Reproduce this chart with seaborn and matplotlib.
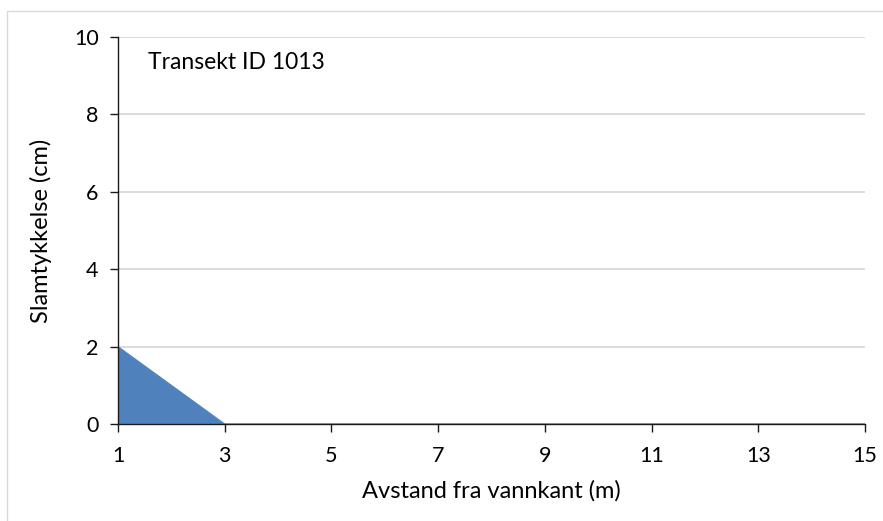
import matplotlib
matplotlib.use("Agg")
import matplotlib.pyplot as plt
import seaborn as sns
import pandas as pd
from matplotlib.patches import Rectangle

# Mud thickness along the transect
distance_m = [1, 2, 3, 4, 5, 6, 7, 8, 9, 10, 11, 12, 13, 14, 15]
thickness_cm = [2, 1, 0, 0, 0, 0, 0, 0, 0, 0, 0, 0, 0, 0, 0]
x_ticks = [1, 3, 5, 7, 9, 11, 13, 15]
y_ticks = [0, 2, 4, 6, 8, 10]
transect_label = "Transekt ID 1013"
x_label = "Avstand fra vannkant (m)"
y_label = "Slamtykkelse (cm)"

df = pd.DataFrame({"distance": distance_m, "thickness": thickness_cm})

sns.set_theme(style="white")
plt.rcParams["font.family"] = ["Lato", "DejaVu Sans"]

fig = plt.figure(figsize=(8.83, 5.21), dpi=100)
ax = fig.add_axes([118 / 883, 97 / 521, 747 / 883, 387 / 521])

fill_color = "#4f81bd"
sns.lineplot(data=df, x="distance", y="thickness", ax=ax, color=fill_color,
             linewidth=0.8, zorder=3)
ax.fill_between(df["distance"], df["thickness"], 0, color=fill_color,
                linewidth=0, zorder=3)

ax.set_xlim(1, 15)
ax.set_ylim(0, 10)
ax.set_xticks(x_ticks)
ax.set_yticks(y_ticks)
ax.yaxis.grid(True, color="#d9d9d9", linewidth=1.3, zorder=0)
ax.xaxis.grid(False)
ax.set_axisbelow(True)

for side in ("top", "right"):
    ax.spines[side].set_visible(False)
for side in ("left", "bottom"):
    ax.spines[side].set_color("#1a1a1a")
    ax.spines[side].set_linewidth(1.0)
    ax.spines[side].set_zorder(4)

ax.tick_params(axis="both", direction="out", length=6, width=1.0,
               color="#1a1a1a", labelsize=15.5, labelcolor="#000000",
               bottom=True, left=True)
ax.tick_params(axis="x", pad=10)
ax.tick_params(axis="y", pad=8)

ax.set_xlabel(x_label, fontsize=17, color="#000000", labelpad=10)
ax.set_ylabel(y_label, fontsize=17, color="#000000", labelpad=16)

ax.text(0.04, 0.935, transect_label, transform=ax.transAxes, fontsize=16.5,
        va="center", ha="left", color="#000000")

# Chart area frame (left and top edges visible)
fig.patches.append(Rectangle((7 / 883, -0.05), 1.2, (521 - 11) / 521 + 0.05,
                             transform=fig.transFigure, fill=False,
                             edgecolor="#d9d9d9", linewidth=1.0))

fig.savefig("out.png", dpi=100)
